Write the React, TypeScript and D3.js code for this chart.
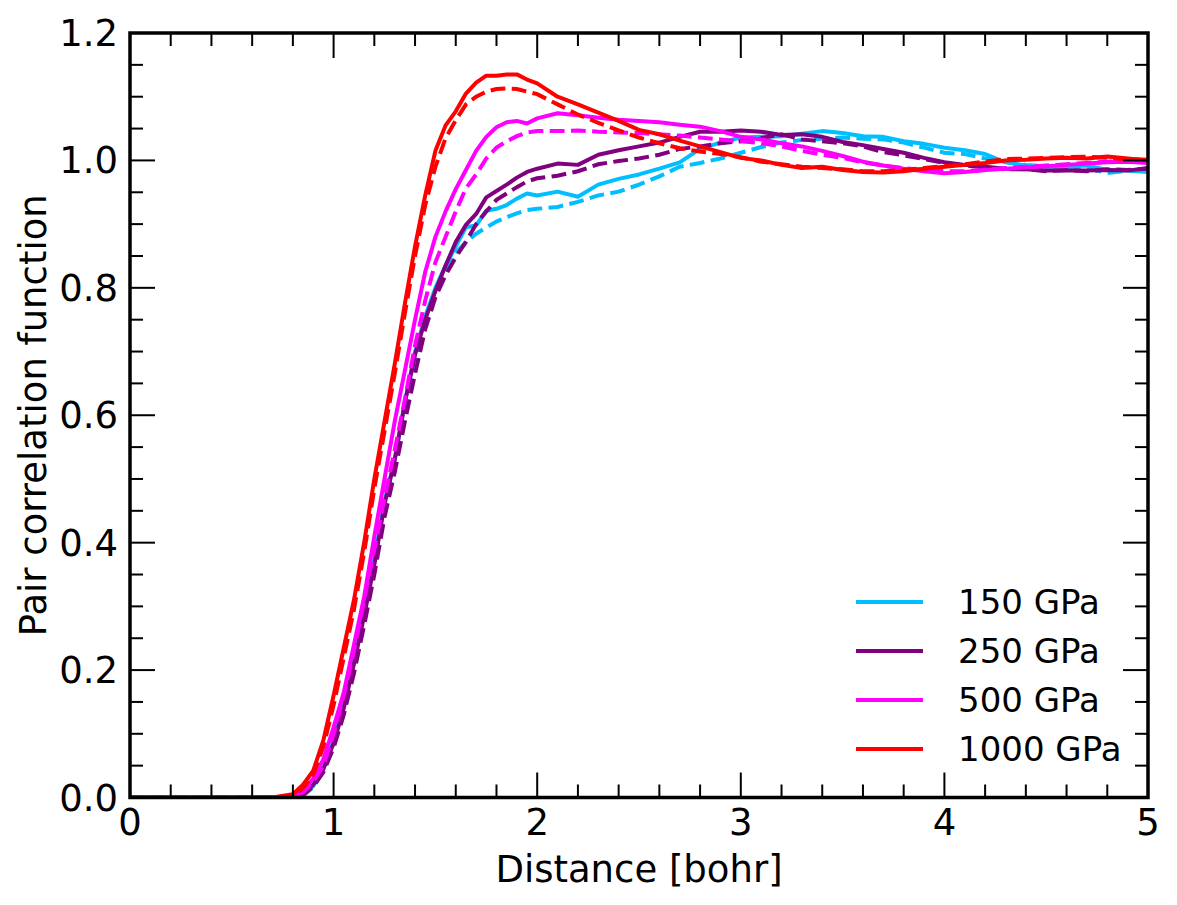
import * as d3 from 'd3';
import { useEffect, useRef } from 'react';

const distance = [
  0, 0.7, 0.8, 0.85, 0.9, 0.95, 1.0, 1.05, 1.1, 1.15, 1.2, 1.25, 1.3, 1.35, 1.4, 1.45, 1.5, 1.55, 1.6,
  1.65, 1.7, 1.75, 1.8, 1.85, 1.9, 1.95, 2.0, 2.1, 2.2, 2.3, 2.4, 2.5, 2.6, 2.7, 2.8, 2.9, 3.0, 3.1,
  3.2, 3.3, 3.4, 3.5, 3.6, 3.7, 3.8, 3.9, 4.0, 4.1, 4.2, 4.3, 4.4, 4.5, 4.6, 4.7, 4.8, 4.9, 5.0
];

const g150 = [
  0, 0, 0, 0.003, 0.018, 0.045, 0.09, 0.15, 0.22, 0.295, 0.375, 0.465, 0.53, 0.62, 0.7, 0.755, 0.8,
  0.835, 0.865, 0.895, 0.898, 0.921, 0.924, 0.93, 0.94, 0.948, 0.945, 0.951, 0.943, 0.962, 0.971,
  0.978, 0.987, 0.997, 1.018, 1.028, 1.036, 1.037, 1.038, 1.042, 1.046, 1.043, 1.038, 1.037, 1.03,
  1.026, 1.02, 1.016, 1.01, 0.997, 0.992, 0.99, 0.991, 0.992, 0.985, 0.984, 0.982
];
const g150Dashed = [
  0, 0, 0, 0.003, 0.016, 0.042, 0.085, 0.14, 0.21, 0.285, 0.365, 0.45, 0.52, 0.6, 0.675, 0.74, 0.79,
  0.825, 0.855, 0.872, 0.885, 0.895, 0.904, 0.911, 0.917, 0.922, 0.924, 0.927, 0.935, 0.945, 0.951,
  0.962, 0.975, 0.99, 0.996, 1.003, 1.012, 1.021, 1.028, 1.032, 1.034, 1.036, 1.034, 1.033, 1.028,
  1.02, 1.012, 1.01, 1.003, 0.998, 0.993, 0.991, 0.99, 0.988, 0.98, 0.984, 0.985
];
const g250 = [
  0, 0, 0, 0.005, 0.02, 0.045, 0.085, 0.14, 0.21, 0.285, 0.365, 0.46, 0.53, 0.62, 0.695, 0.75, 0.795,
  0.835, 0.872, 0.899, 0.916, 0.942, 0.952, 0.962, 0.973, 0.982, 0.987, 0.995, 0.993, 1.009, 1.016,
  1.022, 1.028, 1.037, 1.045, 1.045, 1.047, 1.045, 1.04, 1.041, 1.037, 1.029, 1.024, 1.018, 1.012,
  1.004, 0.997, 0.993, 0.99, 0.987, 0.986, 0.984, 0.984, 0.984, 0.985, 0.984, 0.988
];
const g250Dashed = [
  0, 0, 0, 0.004, 0.017, 0.04, 0.078, 0.13, 0.195, 0.27, 0.35, 0.44, 0.51, 0.59, 0.665, 0.735, 0.785,
  0.82, 0.848, 0.872, 0.9, 0.92, 0.938, 0.948, 0.958, 0.967, 0.972, 0.976, 0.983, 0.994, 0.999,
  1.003, 1.009, 1.018, 1.022, 1.027, 1.03, 1.035, 1.041, 1.033, 1.03, 1.027, 1.022, 1.013, 1.008,
  1.002, 0.996, 0.992, 0.989, 0.986, 0.986, 0.983, 0.985, 0.983, 0.986, 0.985, 0.987
];
const g500 = [
  0, 0, 0.002, 0.01, 0.03, 0.06, 0.11, 0.165, 0.24, 0.315, 0.41, 0.5, 0.59, 0.67, 0.75, 0.825, 0.88,
  0.92, 0.955, 0.985, 1.015, 1.037, 1.052, 1.06, 1.062, 1.058, 1.066, 1.074, 1.071, 1.067, 1.064,
  1.062, 1.06, 1.056, 1.053, 1.046, 1.037, 1.033, 1.027, 1.022, 1.015, 1.007, 0.998, 0.992, 0.987,
  0.983, 0.98, 0.982, 0.985, 0.987, 0.989, 0.991, 0.993, 0.995, 0.997, 0.998, 0.996
];
const g500Dashed = [
  0, 0, 0.002, 0.008, 0.025, 0.05, 0.1, 0.16, 0.23, 0.31, 0.39, 0.47, 0.545, 0.625, 0.71, 0.78, 0.84,
  0.88, 0.92, 0.956, 0.978, 1.003, 1.02, 1.03, 1.038, 1.044, 1.046, 1.046, 1.047, 1.045, 1.044,
  1.043, 1.041, 1.039, 1.036, 1.033, 1.03, 1.027, 1.022, 1.015, 1.009, 1.004, 0.997, 0.992, 0.988,
  0.985, 0.983, 0.983, 0.985, 0.988, 0.99, 0.992, 0.994, 0.996, 0.998, 0.999, 0.998
];
const g1000 = [
  0, 0, 0.005, 0.02, 0.042, 0.09, 0.16, 0.235, 0.31, 0.4, 0.5, 0.59, 0.68, 0.775, 0.865, 0.945, 1.015,
  1.055, 1.077, 1.105, 1.122, 1.133, 1.133, 1.135, 1.135, 1.127, 1.121, 1.1, 1.088, 1.075, 1.062,
  1.048, 1.041, 1.031, 1.022, 1.013, 1.004, 1.0, 0.993, 0.988, 0.99, 0.985, 0.982, 0.981, 0.983,
  0.987, 0.99, 0.993, 0.996, 1.0, 1.001, 1.003, 1.004, 1.003, 1.006, 1.003, 1.0
];
const g1000Dashed = [
  0, 0, 0.003, 0.015, 0.036, 0.08, 0.145, 0.22, 0.295, 0.385, 0.485, 0.575, 0.665, 0.76, 0.85, 0.93,
  0.99, 1.035, 1.063, 1.088, 1.1, 1.108, 1.112, 1.113, 1.112, 1.108, 1.104, 1.088, 1.072, 1.059,
  1.047, 1.036, 1.027, 1.019, 1.014, 1.01, 1.005, 0.998, 0.994, 0.99, 0.988, 0.986, 0.983, 0.983,
  0.985, 0.988, 0.991, 0.994, 0.998, 1.002, 1.003, 1.004, 1.005, 1.006, 1.004, 1.002, 1.001
];

const pressures = ['150 GPa', '250 GPa', '500 GPa', '1000 GPa'];
const colors = ['#00bfff', '#800080', '#ff00ff', '#ff0000'];
const solidSeries = [g150, g250, g500, g1000];
const dashedSeries = [g150Dashed, g250Dashed, g500Dashed, g1000Dashed];

const xTicks = [0, 1, 2, 3, 4, 5];
const yTicks = [0, 0.2, 0.4, 0.6, 0.8, 1.0, 1.2];

const width = 1177;
const height = 905;
const margin = { top: 33, right: 29, bottom: 107.5, left: 130 };
const font = 'DejaVu Sans, sans-serif';

export default function App() {
  const svgRef = useRef<SVGSVGElement>(null);

  useEffect(() => {
    const svg = d3.select(svgRef.current);
    svg.selectAll('*').remove();

    const x0 = margin.left;
    const x1 = width - margin.right;
    const y0 = height - margin.bottom;
    const y1 = margin.top;

    const xScale = d3.scaleLinear().domain([0, 5]).range([x0, x1]);
    const yScale = d3.scaleLinear().domain([0, 1.2]).range([y0, y1]);

    svg.append('rect').attr('width', width).attr('height', height).attr('fill', '#fff');

    svg
      .append('clipPath')
      .attr('id', 'plot-clip')
      .append('rect')
      .attr('x', x0)
      .attr('y', y1)
      .attr('width', x1 - x0)
      .attr('height', y0 - y1);

    const line = d3
      .line<[number, number]>()
      .x((d) => xScale(d[0]))
      .y((d) => yScale(d[1]));

    const curves = svg.append('g').attr('clip-path', 'url(#plot-clip)');
    solidSeries.forEach((values, i) => {
      const pts = distance.map((d, j) => [d, values[j]] as [number, number]);
      const dashedPts = distance.map((d, j) => [d, dashedSeries[i][j]] as [number, number]);
      curves
        .append('path')
        .attr('d', line(pts))
        .attr('fill', 'none')
        .attr('stroke', colors[i])
        .attr('stroke-width', 4)
        .attr('stroke-linejoin', 'round');
      curves
        .append('path')
        .attr('d', line(dashedPts))
        .attr('fill', 'none')
        .attr('stroke', colors[i])
        .attr('stroke-width', 4)
        .attr('stroke-dasharray', '14.8 6.4');
    });

    // ticks on all four sides, pointing inward
    const ticks = svg.append('g').attr('stroke', '#000').attr('stroke-width', 2);
    const xMinor = d3.range(0, 5.001, 0.2);
    const yMinor = d3.range(0, 1.2001, 0.05);
    xMinor.forEach((v) => {
      const major = xTicks.some((t) => Math.abs(t - v) < 1e-6);
      const len = major ? 25 : 13;
      ticks.append('line').attr('x1', xScale(v)).attr('x2', xScale(v)).attr('y1', y0).attr('y2', y0 - len);
      ticks.append('line').attr('x1', xScale(v)).attr('x2', xScale(v)).attr('y1', y1).attr('y2', y1 + len);
    });
    yMinor.forEach((v) => {
      const major = yTicks.some((t) => Math.abs(t - v) < 1e-6);
      const len = major ? 25 : 13;
      ticks.append('line').attr('y1', yScale(v)).attr('y2', yScale(v)).attr('x1', x0).attr('x2', x0 + len);
      ticks.append('line').attr('y1', yScale(v)).attr('y2', yScale(v)).attr('x1', x1).attr('x2', x1 - len);
    });

    svg
      .append('rect')
      .attr('x', x0)
      .attr('y', y1)
      .attr('width', x1 - x0)
      .attr('height', y0 - y1)
      .attr('fill', 'none')
      .attr('stroke', '#000')
      .attr('stroke-width', 3.5);

    const labels = svg.append('g').attr('font-family', font).attr('fill', '#000');
    xTicks.forEach((t) => {
      labels
        .append('text')
        .attr('x', xScale(t))
        .attr('y', y0 + 37)
        .attr('text-anchor', 'middle')
        .attr('font-size', 37)
        .text(d3.format('d')(t));
    });
    yTicks.forEach((t) => {
      labels
        .append('text')
        .attr('x', x0 - 12)
        .attr('y', yScale(t) + 13)
        .attr('text-anchor', 'end')
        .attr('font-size', 37)
        .text(d3.format('.1f')(t));
    });

    labels
      .append('text')
      .attr('x', (x0 + x1) / 2)
      .attr('y', 882)
      .attr('text-anchor', 'middle')
      .attr('font-size', 37)
      .text('Distance [bohr]');
    labels
      .append('text')
      .attr('transform', `translate(46,${(y0 + y1) / 2}) rotate(-90)`)
      .attr('text-anchor', 'middle')
      .attr('font-size', 37)
      .text('Pair correlation function');

    const legend = svg.append('g').attr('font-family', font);
    pressures.forEach((p, i) => {
      const ly = 602 + i * 49;
      legend
        .append('line')
        .attr('x1', 856)
        .attr('x2', 923)
        .attr('y1', ly)
        .attr('y2', ly)
        .attr('stroke', colors[i])
        .attr('stroke-width', 4);
      legend
        .append('text')
        .attr('x', 958)
        .attr('y', ly + 12)
        .attr('font-size', 34)
        .text(p);
    });
  }, []);

  return (
    <div style={{ position: 'absolute', left: 0, top: 0 }}>
      <svg ref={svgRef} width={width} height={height} />
    </div>
  );
}
